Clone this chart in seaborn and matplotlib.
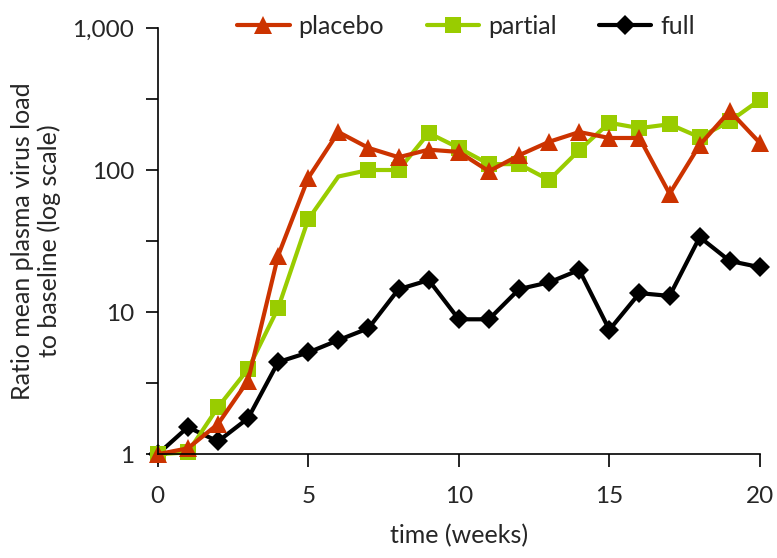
import numpy as np
import pandas as pd
import matplotlib
matplotlib.use('Agg')
import matplotlib.pyplot as plt
import matplotlib.ticker as mticker
import seaborn as sns

weeks = list(range(21))
placebo = [1.0, 1.1, 1.63, 3.3, 25, 88, 185, 143, 123, 139, 134, 98, 127, 158, 185, 168, 168, 68, 150, 260, 155]
partial = [1.0, 1.03, 2.14, 3.97, 10.7, 45, 90, 100, 100, 182, 143, 110, 110, 85, 138, 215, 197, 210, 170, 220, 312]
full = [1.0, 1.55, 1.23, 1.79, 4.45, 5.2, 6.35, 7.7, 14.5, 16.8, 8.9, 8.9, 14.5, 16.2, 19.8, 7.5, 13.6, 13.0, 33.7, 22.9, 20.7]

series_names = ['placebo', 'partial', 'full']
colors = {'placebo': '#CC3300', 'partial': '#99CC00', 'full': '#000000'}
markers = {'placebo': '^', 'partial': 's', 'full': 'D'}
msizes = {'placebo': 13, 'partial': 11.5, 'full': 10.5}

df = pd.DataFrame({
    'week': weeks * 3,
    'ratio': placebo + partial + full,
    'group': ['placebo'] * 21 + ['partial'] * 21 + ['full'] * 21,
})

sns.set_style('white')
plt.rcParams['font.family'] = ['Lato', 'DejaVu Sans']

fig = plt.figure(figsize=(7.77, 5.58), dpi=100)
ax = fig.add_axes([0.203, 0.186, 0.775, 0.764])

# draw full first so placebo ends up on top
for name in ['full', 'partial', 'placebo']:
    sub = df[df['group'] == name]
    mk_every = [i for i in range(21) if not (name == 'partial' and i == 6)]
    sns.lineplot(data=sub, x='week', y='ratio', ax=ax, color=colors[name],
                 marker=markers[name], markersize=msizes[name], markeredgewidth=0,
                 linewidth=3.0, label=name, clip_on=False, markevery=mk_every)

ax.set_yscale('log')
ax.set_xlim(0, 20)
ax.set_ylim(1, 1000)
ax.set_xticks([0, 5, 10, 15, 20])
ax.yaxis.set_major_locator(mticker.FixedLocator([1, 10, 100, 1000]))
ax.yaxis.set_major_formatter(mticker.FixedFormatter(['1', '10', '100', '1,000']))
ax.yaxis.set_minor_locator(mticker.FixedLocator([10 ** 0.5, 10 ** 1.5, 10 ** 2.5]))
ax.yaxis.set_minor_formatter(mticker.NullFormatter())
ax.tick_params(axis='both', which='both', direction='out', length=9, width=1.2,
               labelsize=17.5, left=True, bottom=True, color='black')
ax.tick_params(axis='x', pad=14)
ax.tick_params(axis='y', pad=8)

sns.despine(ax=ax)
for s in ['left', 'bottom']:
    ax.spines[s].set_color('black')
    ax.spines[s].set_linewidth(1.2)

ax.set_xlabel('time (weeks)', fontsize=18, labelpad=12)
ax.set_ylabel('Ratio mean plasma virus load\nto baseline (log scale)', fontsize=18, labelpad=8)

handles, labels = ax.get_legend_handles_labels()
order = [labels.index(n) for n in series_names]
ax.legend([handles[i] for i in order], series_names, loc='center', ncol=3,
          bbox_to_anchor=(0.512, 1.004), frameon=False, fontsize=18,
          handlelength=2.1, columnspacing=1.7, handletextpad=0.35)

fig.savefig('out.png', dpi=100)
